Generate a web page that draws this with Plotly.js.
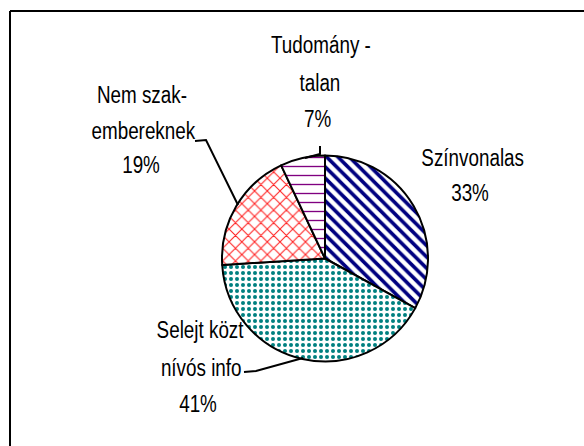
<!DOCTYPE html>
<html>
<head>
<meta charset="utf-8">
<script src="https://cdn.plot.ly/plotly-3.0.1.min.js"></script>
<style>
  html, body { margin: 0; padding: 0; background: #ffffff; }
  #chart { width: 584px; height: 446px; }
  /* emulate the narrow typeface of the original */
  #chart .annotation-text {
    transform-box: fill-box;
    transform-origin: center;
    transform: scaleX(0.82);
  }
</style>
</head>
<body>
<div id="chart"></div>
<script>
// ---- data ----
const categories = ["Színvonalas", "Selejt köztnívós info", "Nem szakembereknek", "Tudománytalan"];
const values = [33, 41, 19, 7];
const patternShapes = ["\\", ".", "x", "-"];
const patternColors = ["#000080", "#008080", "#FF2020", "#800080"];
// label lines (text as shown in the chart), one array per slice
const labelLines = [
  ["Színvonalas", "33%"],
  ["Selejt közt", "nívós info", "41%"],
  ["Nem szak-", "embereknek", "19%"],
  ["Tudomány -", "talan", "7%"]
];

// ---- layout helpers (pixel -> paper) ----
const W = 584, H = 446;
const px = x => x / W;
const py = y => 1 - y / H;

// label line positions (pixels: centre x, centre y of each line)
const labelPos = [
  [[472, 158], [470, 193]],
  [[200, 330], [201, 368], [198, 404]],
  [[142, 95], [143, 131], [141, 165]],
  [[321, 45], [320, 83], [317, 119]]
];

const font = { family: "'Liberation Sans', Arial, sans-serif", size: 23, color: "#000000" };

const annotations = [];
labelLines.forEach((lines, i) => {
  lines.forEach((t, j) => {
    annotations.push({
      xref: "paper", yref: "paper",
      x: px(labelPos[i][j][0]), y: py(labelPos[i][j][1]),
      text: t, showarrow: false, xanchor: "center", yanchor: "middle",
      font: font
    });
  });
});

function pathFrom(points) {
  return points.map((p, k) => (k === 0 ? "M " : "L ") + px(p[0]) + "," + py(p[1])).join(" ");
}

const leaderLines = [
  [[244, 372], [256, 371], [303, 358]],
  [[195, 141], [206, 140], [238, 205]],
  [[320, 146], [320, 154], [305, 158]]
];

const shapes = [
  { type: "line", xref: "paper", yref: "paper", x0: px(10), x1: 1.05, y0: py(11), y1: py(11), line: { color: "#000", width: 2 } },
  { type: "line", xref: "paper", yref: "paper", x0: px(10), x1: px(10), y0: py(11), y1: -0.05, line: { color: "#000", width: 2 } }
];
leaderLines.forEach(pts => shapes.push({
  type: "path", xref: "paper", yref: "paper", path: pathFrom(pts),
  line: { color: "#000", width: 2 }
}));

const cx = 325, cy = 258.5, r = 103;

const trace = {
  type: "pie",
  labels: categories,
  values: values,
  sort: false,
  direction: "clockwise",
  rotation: 0,
  textinfo: "none",
  hoverinfo: "label+percent",
  showlegend: false,
  domain: { x: [px(cx - r), px(cx + r)], y: [py(cy + r), py(cy - r)] },
  marker: {
    colors: ["#ffffff", "#ffffff", "#ffffff", "#ffffff"],
    line: { color: "#000000", width: 2 },
    pattern: {
      shape: patternShapes,
      fgcolor: patternColors,
      bgcolor: "#ffffff",
      fillmode: "replace",
      size: [8, 6, 9, 9],
      solidity: [0.45, 0.35, 0.22, 0.15]
    }
  }
};

const layout = {
  width: W, height: H,
  margin: { l: 0, r: 0, t: 0, b: 0 },
  paper_bgcolor: "#ffffff",
  plot_bgcolor: "#ffffff",
  showlegend: false,
  annotations: annotations,
  shapes: shapes
};

Plotly.newPlot("chart", [trace], layout, { displayModeBar: false, staticPlot: true });
</script>
</body>
</html>
